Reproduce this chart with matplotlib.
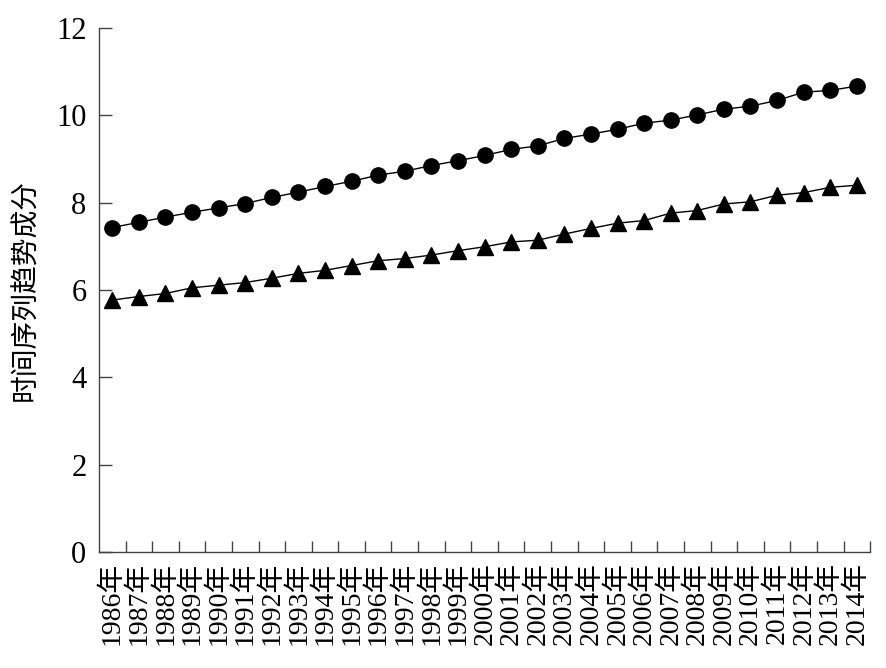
import numpy as np
import matplotlib
matplotlib.use("Agg")
import matplotlib.pyplot as plt

plt.rcParams['font.family'] = ['Liberation Serif', 'Noto Sans CJK SC', 'DejaVu Sans']

# ---------------------------------------------------------------
# Datos
# ---------------------------------------------------------------
years = [str(y) + "年" for y in range(1986, 2015)]
circle_vals = [7.43, 7.55, 7.67, 7.78, 7.88, 7.98, 8.12, 8.24, 8.37, 8.49,
               8.63, 8.72, 8.85, 8.96, 9.08, 9.22, 9.30, 9.47, 9.57, 9.68,
               9.82, 9.89, 10.01, 10.14, 10.21, 10.34, 10.53, 10.57, 10.67]
triangle_vals = [5.77, 5.85, 5.92, 6.05, 6.11, 6.17, 6.27, 6.38, 6.45, 6.56,
                 6.67, 6.72, 6.80, 6.90, 6.99, 7.10, 7.14, 7.28, 7.41, 7.53,
                 7.59, 7.76, 7.82, 7.97, 8.02, 8.17, 8.23, 8.35, 8.40]

x = np.arange(len(years))

fig = plt.figure(figsize=(8.87, 6.68), dpi=100)
ax = fig.add_axes([0.1116, 0.1737, 0.8694, 0.7844])

ax.plot(x, circle_vals, color="black", lw=1, marker="o", markersize=11)
ax.plot(x, triangle_vals, color="black", lw=1, marker="^", markersize=11)

ax.set_xlim(-0.5, len(years) - 0.5)
ax.set_ylim(0, 12)
ax.set_yticks(np.arange(0, 13, 2))

# etiquetas centradas, marcas en los limites de categoria
ax.set_xticks(x)
ax.set_xticklabels(years, rotation=90, fontsize=20)
ax.tick_params(axis="x", which="major", length=0, pad=7)
ax.set_xticks(np.arange(0.5, len(years), 1.0), minor=True)
ax.tick_params(axis="x", which="minor", direction="in", length=8, width=1, color="#444444")
ax.tick_params(axis="y", direction="in", length=9, width=1, labelsize=22, pad=9, color="#444444")

for s in ["top", "right"]:
    ax.spines[s].set_visible(False)
for s in ["left", "bottom"]:
    ax.spines[s].set_color("#444444")
    ax.spines[s].set_linewidth(1)

ax.set_ylabel("时间序列趋势成分", fontsize=20, labelpad=12)

plt.savefig("out.png", dpi=100)
